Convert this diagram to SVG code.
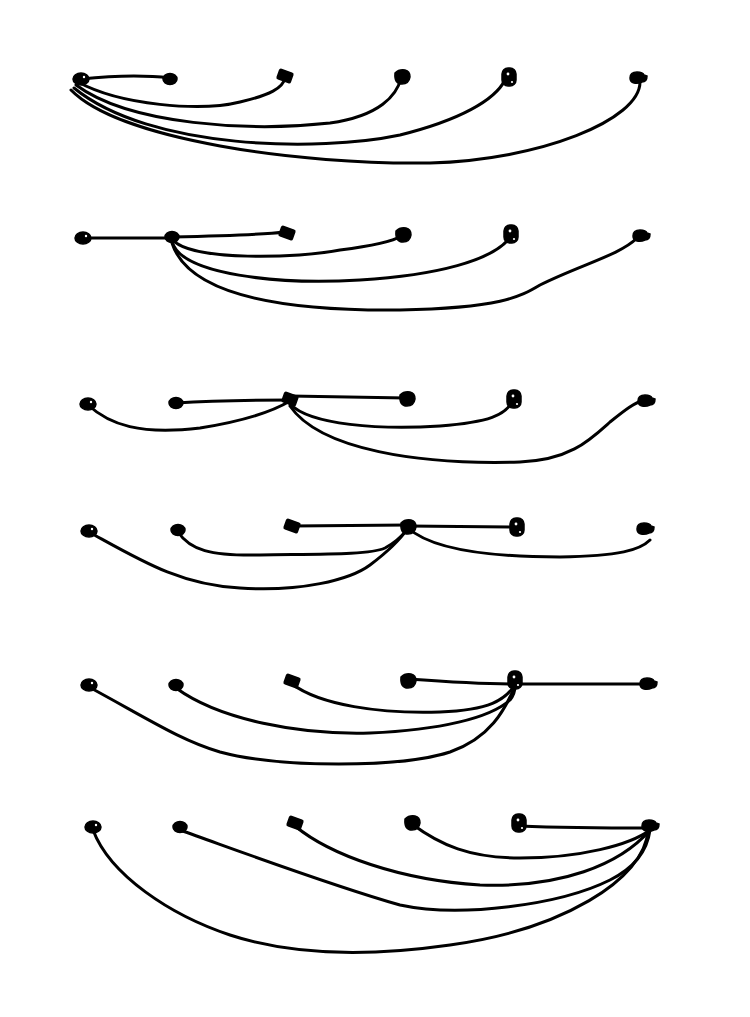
<svg xmlns="http://www.w3.org/2000/svg" xmlns:xlink="http://www.w3.org/1999/xlink" width="750" height="1017" viewBox="0 0 750 1017">
<style>
.bg{fill:#fff}
.e{fill:none;stroke:#000;stroke-width:3;stroke-linecap:round;stroke-linejoin:round}
.n{fill:#000;stroke:#000;stroke-width:1.5}
.d{fill:#fff}
</style>
<defs>
<g id="tA"><ellipse class="n" cx="0" cy="0" rx="8" ry="6"/><circle class="d" cx="3" cy="-2" r="1.2"/></g>
<g id="tB"><ellipse class="n" cx="0" cy="0" rx="7" ry="5.5"/></g>
<g id="tC"><rect class="n" x="-7" y="-5" width="14" height="10" rx="1.5" transform="rotate(20)"/></g>
<g id="tD"><path class="n" d="M-7,-4 Q-3,-8 3,-7 Q8,-6 8,0 Q7,7 0,7 Q-8,7 -7,-4 Z"/></g>
<g id="tE"><rect class="n" x="-7" y="-9" width="14" height="18" rx="6"/><circle class="d" cx="-1" cy="-3" r="1.4"/><circle class="d" cx="3" cy="5" r="1.1"/></g>
<g id="tF"><path class="n" d="M-8,0 Q-8,-6 -1,-6 Q5,-6 6,-3 L9,-2 Q9,4 4,4 Q0,6 -4,5 Q-8,4 -8,0 Z"/></g>
</defs>
<rect class="bg" width="750" height="1017"/>
<g id="connectors">
<path class="e" d="M81,79 C110,76 145,75 170,78"/>
<path class="e" d="M78,82 C120,105 200,112 240,102 C270,95 283,88 285,78"/>
<path class="e" d="M76,85 C130,125 250,132 330,123 C380,116 397,95 401,78"/>
<path class="e" d="M74,88 C150,150 320,152 400,135 C460,120 495,100 505,80"/>
<path class="e" d="M71,90 C120,140 300,165 430,163 C540,160 640,120 640,82"/>

<path class="e" d="M83,238 L172,238"/>
<path class="e" d="M172,237 C220,236 260,235 285,232"/>
<path class="e" d="M172,239 C190,262 300,258 340,250 C380,245 395,240 401,236"/>
<path class="e" d="M172,241 C180,275 280,285 360,280 C440,275 490,260 508,240"/>
<path class="e" d="M172,243 C190,300 300,311 400,310 C500,308 520,297 540,285 C580,265 620,255 637,238"/>

<path class="e" d="M88,405 C110,425 140,435 200,428 C250,420 275,410 290,401"/>
<path class="e" d="M176,403 C220,400 260,400 290,400"/>
<path class="e" d="M290,396 L406,398"/>
<path class="e" d="M290,404 C310,425 380,430 440,426 C490,422 505,415 512,402"/>
<path class="e" d="M290,406 C320,450 420,465 520,462 C570,460 590,440 610,422 C625,410 635,402 645,400"/>

<path class="e" d="M89,532 C140,560 180,585 240,588 C300,592 350,580 370,565 C390,550 400,540 408,528"/>
<path class="e" d="M178,532 C190,550 210,556 260,555 C320,554 370,555 385,548 C400,540 405,532 408,528"/>
<path class="e" d="M292,526 L408,525"/>
<path class="e" d="M408,526 L517,527"/>
<path class="e" d="M408,528 C430,548 480,557 560,557 C620,556 640,550 650,540"/>

<path class="e" d="M89,687 C150,720 180,740 220,752 C280,768 400,768 450,752 C490,738 505,710 515,686"/>
<path class="e" d="M176,688 C220,720 300,735 370,733 C440,730 490,718 510,700 C515,694 515,688 515,686"/>
<path class="e" d="M292,684 C320,705 380,714 440,712 C490,710 505,700 515,685"/>
<path class="e" d="M408,679 C450,682 490,684 515,684"/>
<path class="e" d="M515,684 L648,684"/>

<path class="e" d="M93,830 C110,875 170,915 230,935 C300,958 380,955 450,945 C560,930 645,880 648,830"/>
<path class="e" d="M180,830 C250,855 330,885 400,905 C460,918 560,905 610,880 C640,865 648,845 650,830"/>
<path class="e" d="M295,826 C330,855 400,880 480,885 C560,888 620,865 650,830"/>
<path class="e" d="M412,824 C440,845 470,858 520,858 C580,858 630,845 650,830"/>
<path class="e" d="M519,826 C570,828 610,828 650,828"/>
</g>

<g id="r1n1" transform="translate(81,79)"><use xlink:href="#tA"/></g>
<g id="r1n2" transform="translate(170,79)"><use xlink:href="#tB"/></g>
<g id="r1n3" transform="translate(285,76)"><use xlink:href="#tC"/></g>
<g id="r1n4" transform="translate(402,77)"><use xlink:href="#tD"/></g>
<g id="r1n5" transform="translate(509,77)"><use xlink:href="#tE"/></g>
<g id="r1n6" transform="translate(638,78)"><use xlink:href="#tF"/></g>

<g id="r2n1" transform="translate(83,238)"><use xlink:href="#tA"/></g>
<g id="r2n2" transform="translate(172,237)"><use xlink:href="#tB"/></g>
<g id="r2n3" transform="translate(287,233)"><use xlink:href="#tC"/></g>
<g id="r2n4" transform="translate(403,235)"><use xlink:href="#tD"/></g>
<g id="r2n5" transform="translate(511,234)"><use xlink:href="#tE"/></g>
<g id="r2n6" transform="translate(641,236)"><use xlink:href="#tF"/></g>

<g id="r3n1" transform="translate(88,404)"><use xlink:href="#tA"/></g>
<g id="r3n2" transform="translate(176,403)"><use xlink:href="#tB"/></g>
<g id="r3n3" transform="translate(290,399)"><use xlink:href="#tC"/></g>
<g id="r3n4" transform="translate(407,399)"><use xlink:href="#tD"/></g>
<g id="r3n5" transform="translate(514,399)"><use xlink:href="#tE"/></g>
<g id="r3n6" transform="translate(646,401)"><use xlink:href="#tF"/></g>

<g id="r4n1" transform="translate(89,531)"><use xlink:href="#tA"/></g>
<g id="r4n2" transform="translate(178,530)"><use xlink:href="#tB"/></g>
<g id="r4n3" transform="translate(292,526)"><use xlink:href="#tC"/></g>
<g id="r4n4" transform="translate(408,527)"><use xlink:href="#tD"/></g>
<g id="r4n5" transform="translate(517,527)"><use xlink:href="#tE"/></g>
<g id="r4n6" transform="translate(645,529)"><use xlink:href="#tF"/></g>

<g id="r5n1" transform="translate(89,685)"><use xlink:href="#tA"/></g>
<g id="r5n2" transform="translate(176,685)"><use xlink:href="#tB"/></g>
<g id="r5n3" transform="translate(292,681)"><use xlink:href="#tC"/></g>
<g id="r5n4" transform="translate(408,681)"><use xlink:href="#tD"/></g>
<g id="r5n5" transform="translate(515,680)"><use xlink:href="#tE"/></g>
<g id="r5n6" transform="translate(648,684)"><use xlink:href="#tF"/></g>

<g id="r6n1" transform="translate(93,827)"><use xlink:href="#tA"/></g>
<g id="r6n2" transform="translate(180,827)"><use xlink:href="#tB"/></g>
<g id="r6n3" transform="translate(295,823)"><use xlink:href="#tC"/></g>
<g id="r6n4" transform="translate(412,823)"><use xlink:href="#tD"/></g>
<g id="r6n5" transform="translate(519,823)"><use xlink:href="#tE"/></g>
<g id="r6n6" transform="translate(650,826)"><use xlink:href="#tF"/></g>
</svg>
